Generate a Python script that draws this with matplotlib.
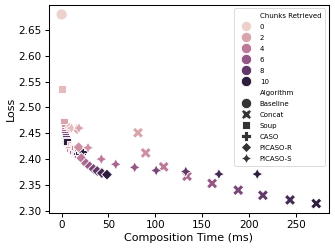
import matplotlib
matplotlib.use("Agg")
import matplotlib.pyplot as plt  # noqa: E402
import numpy as np  # noqa: E402
import pandas as pd  # noqa: E402
import seaborn as sns  # noqa: E402

# composition time (ms) / loss per algorithm
baseline_chunks = [0]
baseline_time = [0.0]
baseline_loss = [2.680]

concat_chunks = [2, 3, 4, 5, 6, 7, 8, 9, 10]
concat_time = [81.6, 89.8, 109.0, 134.0, 160.8, 188.6, 215.0, 244.0, 272.0]
concat_loss = [2.451, 2.412, 2.385, 2.367, 2.353, 2.340, 2.330, 2.321, 2.314]

soup_chunks = [1, 2, 3, 4, 5, 6, 7, 8, 9, 10]
soup_time = [0.0, 2.5, 3.0, 3.2, 3.5, 3.8, 4.2, 4.6, 5.0, 5.7]
soup_loss = [2.535, 2.472, 2.460, 2.455, 2.450, 2.446, 2.442, 2.439, 2.436, 2.433]

caso_chunks = [1, 2, 3, 4, 5, 6, 7, 8, 9, 10]
caso_time = [8.0, 9.5, 11.0, 12.5, 14.0, 15.5, 17.0, 18.5, 20.0, 22.0]
caso_loss = [2.424, 2.421, 2.418, 2.416, 2.414, 2.412, 2.411, 2.411, 2.412, 2.415]

picaso_r_chunks = [1, 2, 3, 4, 5, 6, 7, 8, 9, 10]
picaso_r_time = [8.5, 16.5, 18.2, 21.0, 26.0, 30.0, 34.0, 38.0, 43.0, 48.4]
picaso_r_loss = [2.461, 2.458, 2.423, 2.402, 2.392, 2.386, 2.381, 2.377, 2.373, 2.370]

picaso_s_chunks = [1, 2, 3, 4, 5, 6, 7, 8, 9, 10]
picaso_s_time = [10.4, 18.5, 28.2, 42.4, 57.8, 78.0, 101.0, 132.6, 168.0, 209.0]
picaso_s_loss = [2.460, 2.460, 2.422, 2.400, 2.390, 2.384, 2.378, 2.376, 2.371, 2.371]

series = [
    ("Baseline", baseline_chunks, baseline_time, baseline_loss),
    ("Concat", concat_chunks, concat_time, concat_loss),
    ("Soup", soup_chunks, soup_time, soup_loss),
    ("CASO", caso_chunks, caso_time, caso_loss),
    ("PICASO-R", picaso_r_chunks, picaso_r_time, picaso_r_loss),
    ("PICASO-S", picaso_s_chunks, picaso_s_time, picaso_s_loss),
]

rows = []
for name, ch, t, l in series:
    for c, ti, lo in zip(ch, t, l):
        rows.append({"Algorithm": name, "Chunks Retrieved": c,
                     "Composition Time (ms)": ti, "Loss": lo})
df = pd.DataFrame(rows)

plt.rcParams.update({
    "xtick.major.size": 2.6, "ytick.major.size": 2.6,
    "xtick.major.pad": 2.6, "ytick.major.pad": 2.6,
    "axes.linewidth": 0.75,
})

fig = plt.figure(figsize=(3.35, 2.5), dpi=100)
ax = fig.add_axes([0.146, 0.148, 0.836, 0.832])
sns.scatterplot(data=df, x="Composition Time (ms)", y="Loss",
                hue="Chunks Retrieved", style="Algorithm", s=64, ax=ax)
ax.set_xticks([0, 50, 100, 150, 200, 250])
ax.set_yticks(np.arange(2.30, 2.66, 0.05))
ax.tick_params(labelsize=7.5, width=0.75)
ax.set_xlabel("Composition Time (ms)", fontsize=8, labelpad=2)
ax.set_ylabel("Loss", fontsize=8, labelpad=2)
leg = ax.legend(loc="upper right", fontsize=5, labelspacing=0.72,
                borderpad=0.6, handlelength=2.3, handletextpad=0.8,
                framealpha=0.8)
leg.get_frame().set_linewidth(0.6)
for h in leg.legend_handles:
    if hasattr(h, "set_markersize"):
        h.set_markersize(7.5)
    elif hasattr(h, "set_sizes"):
        h.set_sizes([56])
fig.savefig("out.png", dpi=100)
